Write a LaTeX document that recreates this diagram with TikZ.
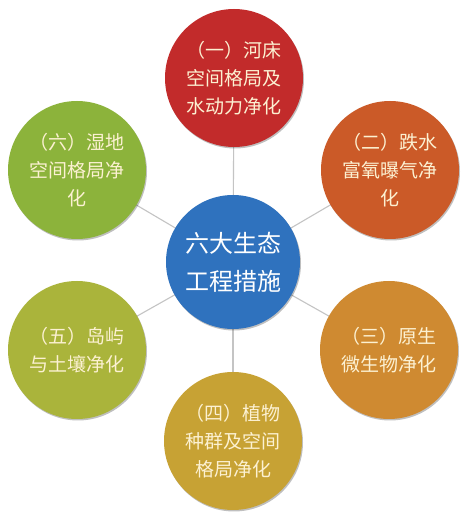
\documentclass[tikz,border=0pt]{standalone}
\usepackage{fontspec}
\newfontfamily\cjk{Noto Sans CJK SC}
\usetikzlibrary{shadows}
\definecolor{cRed}{HTML}{C22B2B}
\definecolor{cOrR}{HTML}{CB5A28}
\definecolor{cOrg}{HTML}{CF8A31}
\definecolor{cMus}{HTML}{C7A234}
\definecolor{cOli}{HTML}{AAB43B}
\definecolor{cGrn}{HTML}{8CB33B}
\definecolor{cBlu}{HTML}{2F72BE}
\definecolor{cTxt}{HTML}{FCF1D2}
\definecolor{cLine}{HTML}{C4C4C4}
\tikzset{
  bub/.style={circle, minimum size=138pt, inner sep=0pt, align=center,
    text=cTxt, font=\cjk\fontsize{19}{28}\selectfont,
    drop shadow={shadow xshift=1pt, shadow yshift=-1.5pt, opacity=0.25, fill=black}},
  hub/.style={bub, minimum size=134pt, text=white, font=\cjk\fontsize{24}{38}\selectfont},
  link/.style={draw=cLine, line width=1.1pt}
}
\begin{document}
\begin{tikzpicture}[x=1pt,y=1pt]
\useasboundingbox (0,0) rectangle (468,523);
\fill[white] (0,0) rectangle (468,523);
\coordinate (pc) at (233,261);
\coordinate (p1) at (234,445);
\coordinate (p2) at (390,353);
\coordinate (p3) at (389,173);
\coordinate (p4) at (233,82);
\coordinate (p5) at (77,173);
\coordinate (p6) at (77,353);
\draw[link] (pc) -- (p1);
\draw[link] (pc) -- (p2);
\draw[link] (pc) -- (p3);
\draw[link] (pc) -- (p4);
\draw[link] (pc) -- (p5);
\draw[link] (pc) -- (p6);
\node[bub, fill=cRed] (n1) at (p1) {（一）河床\\空间格局及\\水动力净化};
\node[bub, fill=cOrR] (n2) at (p2) {（二）跌水\\富氧曝气净\\化};
\node[bub, fill=cOrg] (n3) at (p3) {（三）原生\\微生物净化};
\node[bub, fill=cMus] (n4) at (p4) {（四）植物\\种群及空间\\格局净化};
\node[bub, fill=cOli] (n5) at (p5) {（五）岛屿\\与土壤净化};
\node[bub, fill=cGrn] (n6) at (p6) {（六）湿地\\空间格局净\\化};
\node[hub, fill=cBlu] (c) at (pc) {六大生态\\工程措施};
\end{tikzpicture}
\end{document}
